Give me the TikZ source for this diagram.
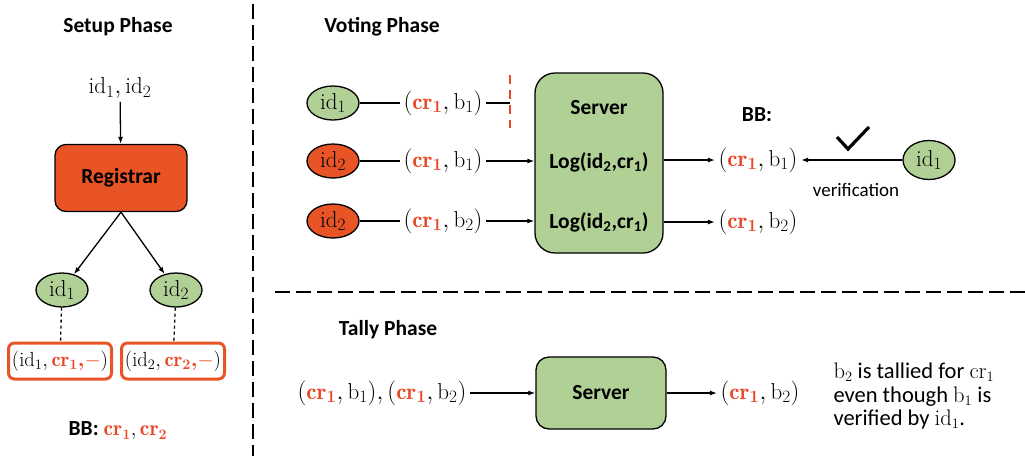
\documentclass[tikz,border=0pt]{standalone}
\usepackage{amsmath}
\usepackage{fontspec}
\setsansfont{Carlito}
\usepackage{xcolor}
\usepackage{tikz}
\usetikzlibrary{positioning, shapes.geometric, arrows.meta}
\definecolor{regorange}{RGB}{233,84,38}
\definecolor{crred}{RGB}{232,72,38}
\definecolor{idgreen}{RGB}{176,208,150}
\newcommand{\crid}[1]{\textcolor{crred}{\boldsymbol{\mathrm{cr}_{#1}}}}
\newcommand{\idx}[1]{\mathrm{id}_{#1}}

\begin{document}
\begin{tikzpicture}[x=1pt, y=-1pt, >={Latex[length=7pt,width=5pt]},
    every node/.style={font=\fontsize{23}{27}\selectfont},
    title/.style={font=\fontsize{21.5}{25}\selectfont\sffamily\bfseries},
    idgreen/.style={ellipse, draw, line width=1.3, fill=idgreen, inner sep=0,
      minimum width=52, minimum height=34},
    idred/.style={idgreen, fill=regorange},
    regbox/.style={draw, line width=1.3, fill=regorange, rounded corners=11,
      minimum width=132, minimum height=67,
      font=\fontsize{21.5}{25}\selectfont\sffamily\bfseries},
    credbox/.style={draw=regorange, line width=3, rounded corners=6, fill=white,
      minimum width=103, minimum height=36, inner sep=1,
      font=\fontsize{20.5}{24}\selectfont},
    serverbox/.style={draw, line width=1.3, fill=idgreen, rounded corners=20},
    srvtext/.style={font=\fontsize{21.5}{25}\selectfont\sffamily\bfseries},
    conn/.style={line width=1.3},
    divider/.style={line width=1.8, dash pattern=on 15pt off 6pt}]
  \useasboundingbox (0,0) rectangle (1025,456);

  % dividers
  \draw[divider] (253,4) -- (253,456);
  \draw[divider] (275,292) -- (1025,292);

  % setup phase
  \node[title] (setup) at (118,27) {Setup Phase};
  \node (ids) at (120,88) {$\idx{1}, \idx{2}$};
  \node[regbox] (reg) at (121,178) {Registrar};
  \node[idgreen] (s1) at (62,290) {$\idx{1}$};
  \node[idgreen] (s2) at (176,290) {$\idx{2}$};
  \node[credbox] (c1) at (60,361) {$(\idx{1}, \crid{1}\textcolor{crred}{\boldsymbol{,}-})$};
  \node[credbox] (c2) at (173,361) {$(\idx{2}, \crid{2}\textcolor{crred}{\boldsymbol{,}-})$};
  \node[title] (bbset) at (118,431) {BB: $\crid{1}, \crid{2}$};
  \draw[->, conn] (ids) -- (reg);
  \draw[->, conn] (reg.south) -- (s1);
  \draw[->, conn] (reg.south) -- (s2);
  \draw[dashed, conn] (s1) -- (c1);
  \draw[dashed, conn] (s2) -- (c2);

  % voting phase
  \node[title] (vote) at (382,27) {Voting Phase};
  \node[serverbox, minimum width=128, minimum height=180] (srv) at (599,163) {};
  \node[srvtext] (srvt) at (599,108) {Server};
  \node[srvtext] (log1) at (599,162) {Log(id\textsubscript{2},cr\textsubscript{1})};
  \node[srvtext] (log2) at (599,222) {Log(id\textsubscript{2},cr\textsubscript{1})};
  \node[idgreen] (v1) at (333,103) {$\idx{1}$};
  \node[idred] (v2) at (333,161) {$\idx{2}$};
  \node[idred] (v3) at (333,221) {$\idx{2}$};
  \node (m1) at (443,103) {$(\crid{1}, \mathrm{b}_1)$};
  \node (m2) at (443,161) {$(\crid{1}, \mathrm{b}_1)$};
  \node (m3) at (443,221) {$(\crid{1}, \mathrm{b}_2)$};
  \coordinate (stop) at (510,103);
  \coordinate (stoptop) at (510,75);
  \coordinate (stopbot) at (510,128);
  \draw[conn] (v1) -- (m1);
  \draw[conn] (m1) -- (stop);
  \draw[crred, line width=1.5, dash pattern=on 9pt off 6pt] (stoptop) -- (stopbot);
  \draw[conn] (v2) -- (m2);
  \draw[conn] (v3) -- (m3);
  \draw[->, conn] (m2) -- (m2 -| srv.west);
  \draw[->, conn] (m3) -- (m3 -| srv.west);
  \node[title] (bbv) at (757,115) {BB:};
  \node (bb1) at (758,160) {$(\crid{1}, \mathrm{b}_1)$};
  \node (bb2) at (758,222) {$(\crid{1}, \mathrm{b}_2)$};
  \draw[->, conn] (srv.east |- bb1) -- (bb1);
  \draw[->, conn] (srv.east |- bb2) -- (bb2);
  \node[idgreen, minimum height=39] (ver) at (929,160) {$\idx{1}$};
  \draw[->, conn] (ver) -- (bb1);
  \draw[line width=3.2] (837,137) -- (848,149) -- (869,127);
  \node[font=\fontsize{19}{22}\selectfont\sffamily] (verif) at (856,190) {verification};

  % tally phase
  \node[title] (tally) at (388,330) {Tally Phase};
  \node (tin) at (382,393) {$(\crid{1}, \mathrm{b}_1), (\crid{1}, \mathrm{b}_2)$};
  \node[serverbox, srvtext, rounded corners=13, minimum width=130, minimum height=72] (tsrv) at (601,393) {Server};
  \node (tout) at (760,393) {$(\crid{1}, \mathrm{b}_2)$};
  \draw[->, conn] (tin) -- (tsrv);
  \draw[->, conn] (tsrv) -- (tout);
  \node[anchor=west, align=left, font=\fontsize{22.5}{23.5}\selectfont\sffamily] (note) at (830,396)
    {$\mathrm{b}_2$ is tallied for $\mathrm{cr}_1$\\even though $\mathrm{b}_1$ is\\verified by $\idx{1}$.};
\end{tikzpicture}
\end{document}
